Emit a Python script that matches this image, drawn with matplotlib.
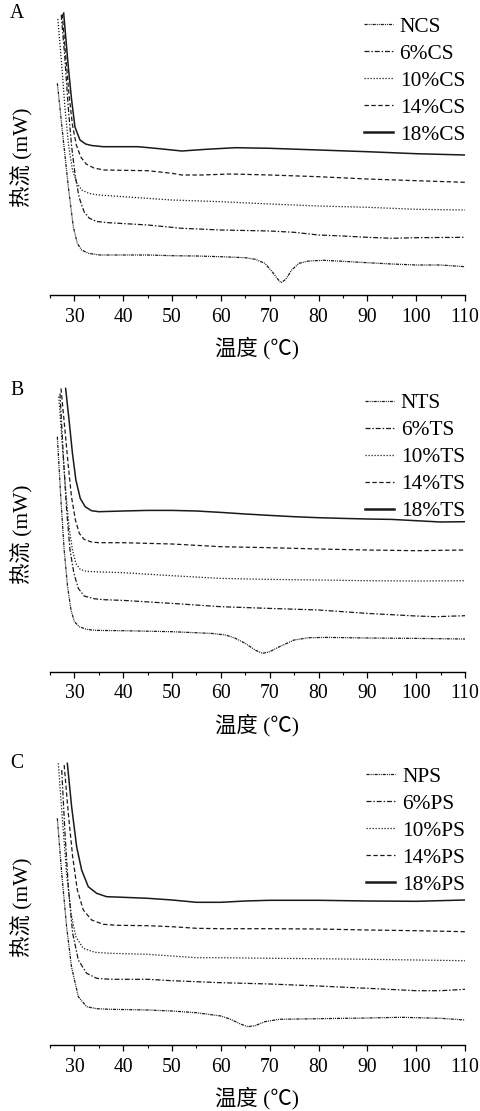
import matplotlib
matplotlib.use("Agg")
import matplotlib.pyplot as plt
from matplotlib.ticker import MultipleLocator

plt.rcParams['font.family'] = ['Liberation Serif', 'Noto Sans CJK SC', 'DejaVu Sans']

# ---------------- Panel A: CS series (temperature in degC, heat flow in arbitrary mW units)
ncs_t = [26.5, 27.73, 28.75, 29.77, 30.59, 31.48, 32.84, 35.2, 40, 45, 50, 55, 60, 65, 67, 69,
         70.5, 71.5, 72.3, 73.3, 74.5, 76, 78, 81, 85, 90, 95, 100, 105, 110]
ncs_hf = [211.7, 155, 108.3, 68.3, 51.7, 45, 41.7, 40, 40, 40, 39.3, 39, 38.3, 37.3, 35.7, 31.7,
          23.3, 16.7, 12.3, 15.7, 25, 31.7, 34, 34.7, 33.7, 32.3, 31, 30, 30, 28.3]
cs6_t = [27.3, 28.0, 28.7, 29.4, 30.2, 31.0, 32.0, 33.0, 34.5, 37, 45, 52, 60, 70, 75, 80, 85, 90, 95, 100, 110]
cs6_hf = [280, 240, 190, 150, 118, 97, 83, 77, 73.5, 72.3, 70, 66.7, 65, 64, 62.7, 60, 59, 57.7, 56.7, 57.3, 57.7]
cs10_t = [26.6, 27.4, 28.1, 28.8, 29.6, 30.5, 31.5, 33, 35, 40, 50, 60, 70, 80, 90, 100, 110]
cs10_hf = [276, 230, 185, 150, 125, 112, 105, 101.5, 100, 98.3, 95, 93.3, 91, 89, 87.7, 85.7, 85]
cs14_t = [27.5, 28.2, 28.9, 29.6, 30.4, 31.3, 32.4, 34, 36, 45, 50, 52, 56, 62, 70, 80, 90, 100, 110]
cs14_hf = [281, 240, 200, 170, 150, 138, 131, 127, 125, 124.3, 121.7, 120, 120, 121, 120, 118.3, 116, 114.3, 112.7]
cs18_t = [27.8, 28.75, 29.43, 30.11, 31.14, 32.3, 33.5, 35.9, 43, 47, 52, 57, 63, 70, 80, 90, 100, 110]
cs18_hf = [282, 228, 195, 168, 155, 151, 149.5, 148.3, 148.3, 146.5, 144, 145.7, 147.3, 146.7, 145, 143.3, 141.3, 140]

# ---------------- Panel B: TS series
nts_t = [26.5, 27.2, 27.9, 28.6, 29.3, 30, 31, 32.5, 34.5, 40, 50, 58, 61, 63, 65, 67, 68.5, 70,
         72, 75, 78, 82, 90, 100, 110]
nts_hf = [235, 175, 121.7, 85, 61.7, 50, 45, 42.3, 41.3, 41, 40, 38.3, 36.7, 33.3, 28.3, 21.7, 18.3, 20,
          25, 31.7, 34, 34.3, 33.7, 33.3, 32.7]
ts6_t = [27.05, 27.7, 28.4, 29.1, 29.9, 30.8, 32, 34, 36, 40, 50, 60, 70, 80, 90, 100, 104, 110]
ts6_hf = [278.3, 218.3, 161.7, 121.7, 98.3, 83.3, 75.7, 73, 72, 71.3, 68.3, 65, 63.3, 61.7, 58.3, 55.7, 55, 56]
ts10_t = [26.8, 27.5, 28.2, 28.9, 29.6, 30.3, 31.2, 32.5, 34, 40, 50, 60, 70, 80, 90, 100, 110]
ts10_hf = [275, 228.3, 181.7, 145, 121.7, 108.3, 102.3, 100.3, 100, 99, 96, 93.3, 92.3, 91.7, 91, 90.7, 91]
ts14_t = [27.25, 28, 28.7, 29.4, 30.2, 31, 32, 33.5, 35, 40, 50, 60, 70, 80, 90, 100, 110]
ts14_hf = [283.3, 245, 208.3, 175, 151.7, 138.3, 132.3, 129.7, 129, 129, 127.7, 125, 124, 122.7, 121.7, 121, 121.7]
ts18_t = [28.2, 28.9, 29.6, 30.3, 31.2, 32.2, 33.5, 35, 40, 45, 50, 55, 60, 65, 70, 75, 80, 85, 90, 95, 100, 105, 110]
ts18_hf = [283.3, 251.7, 218.3, 191.7, 173.3, 165, 161, 160, 160.7, 161.3, 161.3, 160.7, 159.3, 157.7,
           156.3, 155, 154, 153.3, 152.7, 152.3, 151, 149.7, 150]

# ---------------- Panel C: PS series
nps_t = [26.5, 27.4, 28.4, 29.4, 30.8, 32.5, 34.55, 37.3, 45, 50, 55, 60, 62, 64, 65.5, 67, 69, 72,
         80, 90, 97, 105, 110]
nps_hf = [226.7, 171.7, 118.3, 78.3, 48.3, 38.3, 36.3, 35.7, 35, 34, 32.3, 29, 25.7, 21, 18.3, 19.3,
          23.3, 25.7, 26.3, 27, 27.7, 26.7, 25]
ps6_t = [27.4, 28.07, 28.75, 29.64, 30.8, 32.5, 34.55, 37.3, 45, 50, 60, 70, 80, 90, 100, 105, 110]
ps6_hf = [275, 211.7, 158.3, 111.7, 85, 71.7, 66.7, 65.7, 65.7, 64.3, 62.3, 61, 59, 56.7, 54.3, 54.3, 55.7]
ps10_t = [26.7, 27.6, 28.4, 29.3, 30.3, 31.8, 34.2, 37.3, 45, 50, 55, 60, 70, 80, 90, 100, 110]
ps10_hf = [281.7, 221.7, 171.7, 131.7, 108.3, 96.7, 92.7, 91.7, 90.7, 89, 87.3, 87.3, 86.7, 86.3, 85.7, 85, 84.3]
ps14_t = [27.9, 28.75, 29.64, 30.6, 31.82, 33.53, 35.9, 38.6, 45, 50, 55, 60, 70, 80, 90, 100, 110]
ps14_hf = [280, 231.7, 188.3, 155, 135, 125, 120.7, 119.7, 119.3, 118.3, 116.7, 116.3, 116.3, 116, 115, 114.3, 113.3]
ps18_t = [28.55, 29.43, 30.46, 31.48, 32.84, 34.55, 36.6, 40, 45, 50, 55, 60, 65, 70, 80, 90, 100, 110]
ps18_hf = [281.7, 238.3, 198.3, 175, 158.3, 151.7, 148.3, 147.7, 146.7, 145, 142.7, 142.7, 144, 144.7,
           144.7, 144, 143.7, 145]

x_ticks = [30, 40, 50, 60, 70, 80, 90, 100, 110]

panel_letters = ["A", "B", "C"]
cs_labels = ["NCS", "6%CS", "10%CS", "14%CS", "18%CS"]
ts_labels = ["NTS", "6%TS", "10%TS", "14%TS", "18%TS"]
ps_labels = ["NPS", "6%PS", "10%PS", "14%PS", "18%PS"]

# line styles shared by all three panels (N, 6%, 10%, 14%, 18%)
styles = [
    dict(ls=(0, (2.5, 0.8, 0.8, 0.8, 0.8, 0.8)), lw=0.9),
    dict(ls=(0, (4, 1.5, 1.2, 1.5)), lw=0.9),
    dict(ls=(0, (1, 1.4)), lw=0.9),
    dict(ls=(0, (3.5, 2)), lw=0.9),
    dict(ls='-', lw=1.1),
]

panels = [
    (panel_letters[0], cs_labels,
     [(ncs_t, ncs_hf), (cs6_t, cs6_hf), (cs10_t, cs10_hf), (cs14_t, cs14_hf), (cs18_t, cs18_hf)]),
    (panel_letters[1], ts_labels,
     [(nts_t, nts_hf), (ts6_t, ts6_hf), (ts10_t, ts10_hf), (ts14_t, ts14_hf), (ts18_t, ts18_hf)]),
    (panel_letters[2], ps_labels,
     [(nps_t, nps_hf), (ps6_t, ps6_hf), (ps10_t, ps10_hf), (ps14_t, ps14_hf), (ps18_t, ps18_hf)]),
]

W, H = 480, 1111
fig = plt.figure(figsize=(W / 100, H / 100), dpi=100)

axis_rows = [295, 671.7, 1045]   # pixel row of each x axis line
ax_left, ax_right = 50, 465
ax_h = 285
fs_tick = 14.2
fs_text = 15.4

for (letter, labels, series), y_axis in zip(panels, axis_rows):
    ax = fig.add_axes([ax_left / W, (H - y_axis) / H, (ax_right - ax_left) / W, ax_h / H])
    handles = []
    for (t, hf), st, lab in zip(series, styles, labels):
        h, = ax.plot(t, hf, color='#1a1a1a', linestyle=st['ls'], lw=st['lw'], label=lab)
        handles.append(h)
    ax.set_xlim(25, 110)
    ax.set_ylim(0, ax_h)
    for s in ['top', 'right', 'left']:
        ax.spines[s].set_visible(False)
    ax.spines['bottom'].set_linewidth(1.0)
    ax.set_yticks([])
    ax.set_xticks(x_ticks)
    ax.xaxis.set_minor_locator(MultipleLocator(5))
    ax.tick_params(axis='x', which='major', direction='out', length=4, width=0.9,
                   labelsize=fs_tick, pad=5)
    ax.tick_params(axis='x', which='minor', direction='out', length=2.5, width=0.8)
    ax.patch.set_visible(False)

    leg = ax.legend(handles=handles, loc='upper right', bbox_to_anchor=(1.0, 0.977),
                    frameon=False, fontsize=fs_text, handlelength=1.35, handletextpad=0.33,
                    labelspacing=0.33, borderpad=0.0, borderaxespad=0.0)
    leg.legend_handles[4].set_linewidth(1.8)

    fig.text(257 / W, 1 - (y_axis + 53) / H, "温度 (℃)", fontsize=fs_text,
             ha='center', va='center')
    fig.text(22.5 / W, 1 - (y_axis - 137.5) / H, "热流 (mW)", fontsize=fs_text,
             ha='center', va='center', rotation=90)
    fig.text(17 / W, 1 - (y_axis - 281) / H, letter, fontsize=fs_tick, ha='center', va='center')

fig.savefig("out.png", dpi=100)
